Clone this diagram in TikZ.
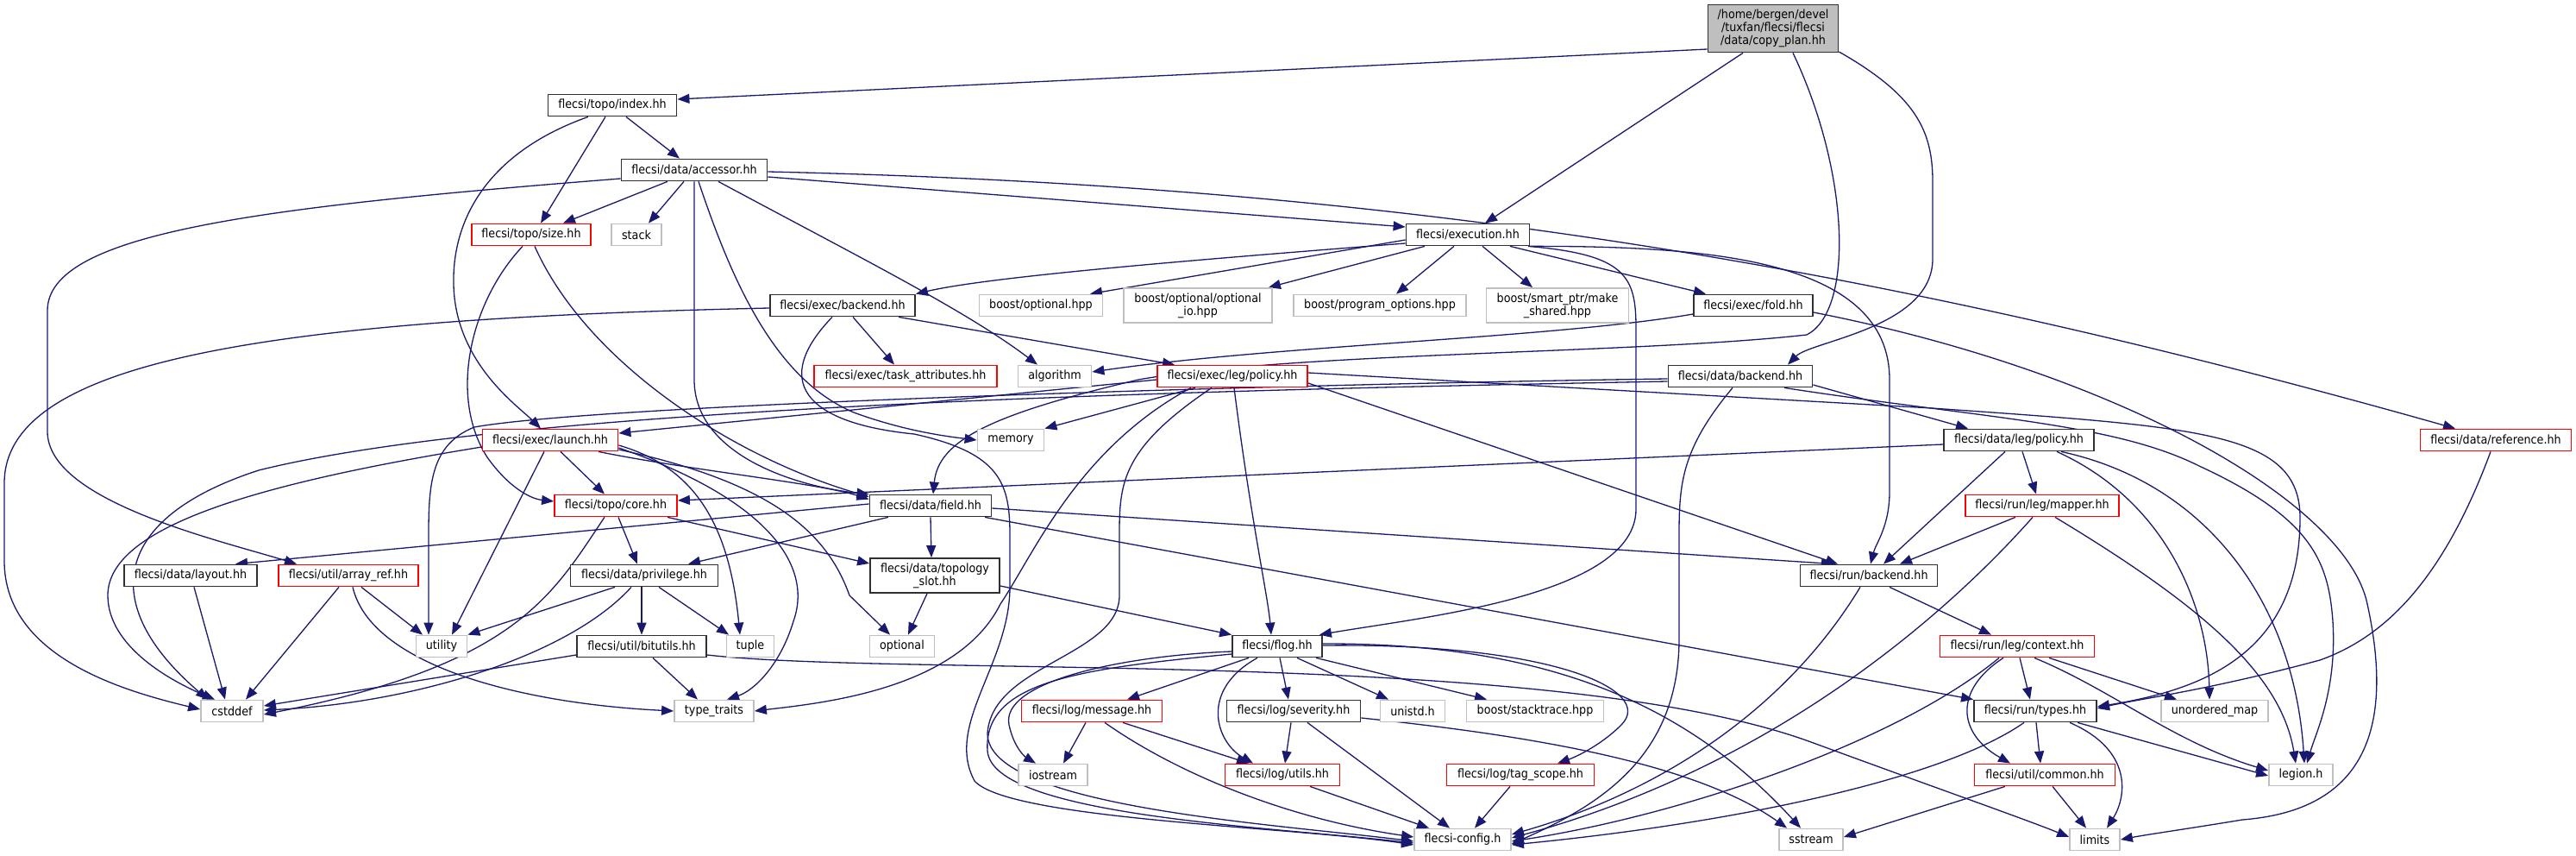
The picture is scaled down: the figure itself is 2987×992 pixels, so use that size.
\documentclass[tikz,border=0pt]{standalone}
\usepackage{fontspec}
\setmainfont{DejaVu Sans}[FakeStretch=0.91]
\usetikzlibrary{arrows.meta,backgrounds}
\definecolor{edgeblue}{HTML}{191970}
\definecolor{docgray}{HTML}{303030}
\definecolor{sysgray}{HTML}{BFBFBF}
\definecolor{rootgray}{HTML}{BFBFBF}
\definecolor{truncred}{HTML}{FF0000}
\tikzset{
  base/.style={rectangle, inner sep=0pt, minimum height=25pt, line width=1.8pt,
    font={\fontsize{14pt}{14.7pt}\selectfont}, align=center, text=black, fill=white},
  doc/.style={base, draw=docgray},
  trunc/.style={base, draw=truncred},
  sys/.style={base, draw=sysgray},
  rootnode/.style={base, draw=docgray, fill=rootgray},
  e/.style={draw=edgeblue, line width=1.3pt, -{Triangle[length=14pt,width=11pt]}},
}
\begin{document}
\begin{tikzpicture}[x=1pt,y=-1pt]
\useasboundingbox (0,0) rectangle (2987,992);
% nodes
\node[rootnode, minimum width=151pt, minimum height=55pt] (root) at (2056,33) {/home/bergen/devel\\/tuxfan/flecsi/flecsi\\/data/copy\_plan.hh};
\node[doc, minimum width=149pt] (index) at (710,122) {flecsi/topo/index.hh};
\node[doc, minimum width=169pt] (accessor) at (805,197) {flecsi/data/accessor.hh};
\node[trunc, minimum width=138pt] (size) at (616,272) {flecsi/topo/size.hh};
\node[sys, minimum width=58pt] (stack) at (738,272) {stack};
\node[doc, minimum width=143pt] (execution) at (1702,272) {flecsi/execution.hh};
\node[doc, minimum width=168pt] (execbackend) at (977,354) {flecsi/exec/backend.hh};
\node[sys, minimum width=143pt] (boostopt) at (1207,354) {boost/optional.hpp};
\node[sys, minimum width=172pt, minimum height=40pt] (optio) at (1389,354) {boost/optional/optional\\\_io.hpp};
\node[sys, minimum width=200pt] (progopt) at (1600,354) {boost/program\_options.hpp};
\node[sys, minimum width=165pt, minimum height=40pt] (makeshared) at (1806,354) {boost/smart\_ptr/make\\\_shared.hpp};
\node[doc, minimum width=138pt] (fold) at (2033,354) {flecsi/exec/fold.hh};
\node[trunc, minimum width=212pt] (taskattr) at (1050,436) {flecsi/exec/task\_attributes.hh};
\node[sys, minimum width=85pt] (algorithm) at (1223,436) {algorithm};
\node[trunc, minimum width=174pt] (execpolicy) at (1429,436) {flecsi/exec/leg/policy.hh};
\node[doc, minimum width=167pt] (databackend) at (2018,436) {flecsi/data/backend.hh};
\node[trunc, minimum width=157pt] (launch) at (638,510) {flecsi/exec/launch.hh};
\node[sys, minimum width=77pt] (memory) at (1172,510) {memory};
\node[doc, minimum width=174pt] (datapolicy) at (2341,510) {flecsi/data/leg/policy.hh};
\node[trunc, minimum width=175pt] (reference) at (2894,510) {flecsi/data/reference.hh};
\node[trunc, minimum width=142pt] (core) at (714,586) {flecsi/topo/core.hh};
\node[doc, minimum width=141pt] (field) at (1079,586) {flecsi/data/field.hh};
\node[trunc, minimum width=178pt] (mapper) at (2368,586) {flecsi/run/leg/mapper.hh};
\node[doc, minimum width=154pt] (layout) at (221,667) {flecsi/data/layout.hh};
\node[trunc, minimum width=162pt] (arrayref) at (404,667) {flecsi/util/array\_ref.hh};
\node[doc, minimum width=171pt] (privilege) at (747,667) {flecsi/data/privilege.hh};
\node[doc, minimum width=150pt, minimum height=40pt] (topslot) at (1084,667) {flecsi/data/topology\\\_slot.hh};
\node[doc, minimum width=159pt] (runbackend) at (2167,667) {flecsi/run/backend.hh};
\node[sys, minimum width=59pt] (utility) at (512,749) {utility};
\node[doc, minimum width=150pt] (bitutils) at (744,749) {flecsi/util/bitutils.hh};
\node[sys, minimum width=55pt] (tuple) at (870,749) {tuple};
\node[sys, minimum width=75pt] (optional) at (1046,749) {optional};
\node[doc, minimum width=104pt] (flog) at (1481,749) {flecsi/flog.hh};
\node[trunc, minimum width=179pt] (context) at (2339,749) {flecsi/run/leg/context.hh};
\node[sys, minimum width=72pt] (cstddef) at (269,824) {cstddef};
\node[sys, minimum width=92pt] (typetraits) at (828,824) {type\_traits};
\node[trunc, minimum width=163pt] (message) at (1266,824) {flecsi/log/message.hh};
\node[doc, minimum width=155pt] (severity) at (1500,824) {flecsi/log/severity.hh};
\node[sys, minimum width=75pt] (unistd) at (1638,824) {unistd.h};
\node[sys, minimum width=159pt] (stacktrace) at (1780,824) {boost/stacktrace.hpp};
\node[doc, minimum width=142pt] (types) at (2360,824) {flecsi/run/types.hh};
\node[sys, minimum width=124pt] (unordered) at (2568,824) {unordered\_map};
\node[sys, minimum width=80pt] (iostream) at (1221,898) {iostream};
\node[trunc, minimum width=133pt] (logutils) at (1487,898) {flecsi/log/utils.hh};
\node[trunc, minimum width=171pt] (tagscope) at (1763,898) {flecsi/log/tag\_scope.hh};
\node[trunc, minimum width=163pt] (common) at (2371,898) {flecsi/util/common.hh};
\node[sys, minimum width=74pt] (legion) at (2668,898) {legion.h};
\node[sys, minimum width=112pt] (config) at (1696,973) {flecsi-config.h};
\node[sys, minimum width=74pt] (sstream) at (2100,973) {sstream};
\node[sys, minimum width=58pt] (limits) at (2429,973) {limits};

\begin{pgfonlayer}{background}
\path[fill=white] (0,0) rectangle (2987,992);
% root
\draw[e] ([yshift=-24pt]root.west) -- ([yshift=7pt]index.east);
\draw[e] ([xshift=-35pt]root.south) -- ([xshift=20pt]execution.north);
\draw[e] ([xshift=23pt]root.south) .. controls (2145,200) and (2150,360) .. (2095,388) .. controls (1900,410) and (1500,408) .. (1320,440) .. controls (1150,480) and (1088,510) .. ([xshift=3pt]field.north);
\draw[e] ([yshift=-27pt]root.east) .. controls (2220,110) and (2241,150) .. (2241,210) -- (2241,300) .. controls (2241,380) and (2100,395) .. ([xshift=55pt]databackend.north);
% index
\draw[e] ([xshift=-8pt]index.south) -- ([xshift=11pt]size.north);
\draw[e] ([xshift=16pt]index.south) -- ([xshift=-17pt]accessor.north);
\draw[e] ([xshift=-28pt]index.south) .. controls (570,175) and (524,250) .. (526,330) .. controls (528,420) and (600,470) .. ([xshift=-11pt]launch.north);
% accessor
\draw[e] ([xshift=-31pt]accessor.south) -- ([xshift=37pt]size.north);
\draw[e] ([xshift=-12pt]accessor.south) -- ([xshift=14pt]stack.north);
\draw[e] (accessor.south) -- (805,440) .. controls (805,530) and (930,565) .. (field.north west);
\draw[e] ([xshift=5pt]accessor.south) .. controls (850,330) and (900,440) .. (990,478) .. controls (1050,500) and (1100,506) .. (memory.west);
\draw[e] ([xshift=28pt]accessor.south) .. controls (1000,300) and (1120,360) .. ([xshift=-20pt]algorithm.north);
\draw[e] ([yshift=-8pt]accessor.east) -- ([yshift=9pt]execution.west);
\draw[e] ([yshift=-2pt]accessor.east) .. controls (1600,215) and (2150,300) .. ([xshift=-47pt]reference.north);
\draw[e] ([yshift=-10pt]accessor.west) .. controls (300,240) and (55,270) .. (55,360) -- (55,500) .. controls (55,580) and (250,625) .. ([xshift=-60pt]arrayref.north);
% size
\draw[e] ([xshift=-10pt]size.south) .. controls (545,350) and (520,460) .. (565,530) .. controls (590,565) and (615,578) .. ([yshift=5pt]core.west);
\draw[e] ([xshift=4pt]size.south) .. controls (680,420) and (850,530) .. ([yshift=-3pt]field.north west);
% execution
\draw[e] ([yshift=-10pt]execution.west) .. controls (1400,300) and (1150,320) .. (execbackend.north east);
\draw[e] ([yshift=-6pt]execution.west) -- ([xshift=57pt]boostopt.north);
\draw[e] ([xshift=-50pt]execution.south) -- ([xshift=-5pt]optio.north east);
\draw[e] ([xshift=-16pt]execution.south) -- ([xshift=19pt]progopt.north);
\draw[e] ([xshift=17pt]execution.south) -- ([xshift=-29pt]makeshared.north);
\draw[e] ([xshift=49pt]execution.south) -- ([xshift=-55pt]fold.north);
\draw[e] ([xshift=70pt]execution.south) .. controls (1885,295) and (1897,320) .. (1897,380) -- (1897,590) .. controls (1897,690) and (1650,715) .. ([xshift=-4pt]flog.north east);
\draw[e] (execution.south east) .. controls (1980,285) and (2191,300) .. (2191,440) -- (2191,570) .. controls (2191,610) and (2175,630) .. ([xshift=2pt]runbackend.north);
% exec backend
\draw[e] ([xshift=12pt]execbackend.south) -- ([xshift=-13pt]taskattr.north);
\draw[e] ([xshift=65pt]execbackend.south) -- ([xshift=-67pt]execpolicy.north);
\draw[e] ([yshift=-3pt]execbackend.west) .. controls (300,370) and (5,420) .. (5,560) -- (5,650) .. controls (5,760) and (140,800) .. ([yshift=2pt]cstddef.west);
\draw[e] ([xshift=-12pt]execbackend.south) .. controls (895,440) and (930,490) .. (1060,503) .. controls (1160,525) and (1171,560) .. (1171,620) -- (1171,680) .. controls (1171,770) and (1095,840) .. (1130,905) .. controls (1170,950) and (1500,958) .. ([yshift=-6pt]config.west);
% fold
\draw[e] ([yshift=-10pt]fold.west) .. controls (1800,392) and (1480,400) .. ([yshift=5pt]algorithm.east);
\draw[e] ([yshift=-8pt]fold.east) .. controls (2450,430) and (2720,580) .. (2745,700) .. controls (2780,860) and (2730,940) .. (2600,950) .. controls (2540,960) and (2490,967) .. (limits.east);
% exec policy
\draw[e] ([yshift=-4pt]execpolicy.west) -- ([yshift=8pt]launch.east);
\draw[e] ([xshift=-43pt]execpolicy.south) -- (memory.north east);
\draw[e] ([xshift=2pt]execpolicy.south) .. controls (1450,600) and (1470,690) .. ([xshift=-7pt]flog.north);
\draw[e] ([xshift=-48pt]execpolicy.south) .. controls (1250,520) and (1200,640) .. (1160,700) .. controls (1110,800) and (950,815) .. (typetraits.east);
\draw[e] ([xshift=-24pt]execpolicy.south) .. controls (1300,520) and (1298,560) .. (1298,620) -- (1298,690) .. controls (1298,760) and (1150,770) .. (1145,850) .. controls (1145,935) and (1480,955) .. ([yshift=-2pt]config.west);
\draw[e] ([yshift=-8pt]execpolicy.east) -- ([xshift=-36pt]runbackend.north);
\draw[e] ([yshift=4pt]execpolicy.east) -- (2240,473) .. controls (2550,495) and (2667,500) .. (2667,600) .. controls (2667,760) and (2550,800) .. ([yshift=5pt]types.east);
% data backend
\draw[e] ([yshift=-10pt]databackend.east) -- ([xshift=-59pt]datapolicy.north);
\draw[e] ([xshift=51pt]databackend.south) .. controls (2300,485) and (2450,490) .. (2550,540) .. controls (2680,600) and (2700,650) .. (2705,720) .. controls (2710,800) and (2685,850) .. ([xshift=7pt]legion.north);
\draw[e] ([xshift=-9pt]databackend.south) .. controls (1950,520) and (1947,560) .. (1947,620) -- (1947,740) .. controls (1947,880) and (1850,935) .. ([yshift=-5pt]config.east);
\draw[e] ([yshift=-3pt]databackend.west) .. controls (1500,445) and (700,468) .. (550,495) .. controls (500,515) and (497,560) .. (497,620) -- ([xshift=-15pt]utility.north);
\draw[e] ([yshift=-6pt]databackend.west) .. controls (1400,452) and (600,470) .. (300,545) .. controls (130,600) and (112,700) .. ([xshift=-28pt]cstddef.north);
% launch
\draw[e] ([yshift=-8pt]launch.west) .. controls (300,560) and (125,610) .. (125,690) .. controls (125,750) and (200,790) .. ([xshift=-20pt]cstddef.north);
\draw[e] ([xshift=-7pt]launch.south) -- ([xshift=12pt]utility.north);
\draw[e] ([xshift=12pt]launch.south) -- ([xshift=-13pt]core.north);
\draw[e] ([xshift=56pt]launch.south) .. controls (800,545) and (950,560) .. ([yshift=-6pt]field.north west);
\draw[e] ([yshift=-6pt]launch.east) .. controls (800,540) and (845,600) .. ([xshift=-12pt]tuple.north);
\draw[e] ([yshift=-9pt]launch.east) .. controls (880,575) and (945,650) .. (920,720) .. controls (905,770) and (875,800) .. ([xshift=15pt]typetraits.north);
\draw[e] ([yshift=-11pt]launch.east) .. controls (900,560) and (960,620) .. (985,690) -- ([xshift=-14pt]optional.north);
% core
\draw[e] ([xshift=3pt]core.south) -- ([xshift=-8pt]privilege.north);
\draw[e] ([xshift=-13pt]core.south) .. controls (640,690) and (600,770) .. ([yshift=-4pt]cstddef.east);
\draw[e] ([xshift=60pt]core.south) -- ([yshift=14pt]topslot.west);
% field
\draw[e] ([xshift=-49pt]field.south) -- ([xshift=51pt]privilege.north);
\draw[e] (field.south) -- ([xshift=-4pt]topslot.north);
\draw[e] ([yshift=2pt]field.west) -- ([xshift=52pt]layout.north);
\draw[e] ([yshift=-3pt]field.east) -- ([xshift=-41pt]runbackend.north);
\draw[e] ([xshift=63pt]field.south) -- (types.north west);
% topology slot
\draw[e] ([xshift=-9pt]topslot.south) -- ([xshift=7pt]optional.north);
\draw[e] ([yshift=-12pt]topslot.east) -- (flog.north west);
% layout, array_ref
\draw[e] ([xshift=4pt]layout.south) -- ([xshift=-8pt]cstddef.north);
\draw[e] ([xshift=-11pt]arrayref.south) -- ([xshift=16pt]cstddef.north);
\draw[e] ([xshift=15pt]arrayref.south) -- ([xshift=-22pt]utility.north);
\draw[e] ([xshift=5pt]arrayref.south) .. controls (430,770) and (600,815) .. (typetraits.west);
% privilege
\draw[e] ([xshift=-34pt]privilege.south) -- (utility.north east);
\draw[e] ([xshift=-15pt]privilege.south) .. controls (660,760) and (480,815) .. ([yshift=1pt]cstddef.east);
\draw[e] ([xshift=-3pt]privilege.south) -- (bitutils.north);
\draw[e] ([xshift=17pt]privilege.south) -- ([xshift=-25pt]tuple.north);
% bitutils
\draw[e] ([yshift=-10pt]bitutils.west) -- ([yshift=6pt]cstddef.east);
\draw[e] ([xshift=13pt]bitutils.south) -- ([xshift=-19pt]typetraits.north);
\draw[e] ([yshift=-10pt]bitutils.east) .. controls (1050,785) and (1800,750) .. (2100,860) .. controls (2250,915) and (2350,950) .. ([yshift=3pt]limits.west);
% flog
\draw[e] ([xshift=-33pt]flog.south) -- ([xshift=41pt]message.north);
\draw[e] ([xshift=-23pt]flog.south) .. controls (1390,800) and (1410,860) .. ([xshift=-34pt]logutils.north);
\draw[e] ([xshift=3pt]flog.south) -- ([xshift=-6pt]severity.north);
\draw[e] ([xshift=23pt]flog.south) -- ([xshift=-28pt]unistd.north);
\draw[e] ([xshift=45pt]flog.south) -- ([xshift=-56pt]stacktrace.north);
\draw[e] ([yshift=1pt]flog.east) .. controls (1800,745) and (1920,800) .. (1880,840) .. controls (1855,865) and (1825,878) .. ([xshift=43pt]tagscope.north);
\draw[e] ([yshift=3pt]flog.east) .. controls (1800,745) and (1960,820) .. ([xshift=-12pt]sstream.north);
\draw[e] ([yshift=-6pt]flog.west) .. controls (1300,760) and (1160,790) .. (1170,840) .. controls (1176,868) and (1190,878) .. ([xshift=-20pt]iostream.north);
\draw[e] ([yshift=-9pt]flog.west) .. controls (1250,775) and (1140,790) .. (1145,870) .. controls (1150,945) and (1470,958) .. ([yshift=-4pt]config.west);
% message
\draw[e] ([xshift=-7pt]message.south) -- ([xshift=12pt]iostream.north);
\draw[e] ([xshift=36pt]message.south) -- ([xshift=-39pt]logutils.north);
\draw[e] ([xshift=15pt]message.south) .. controls (1370,900) and (1500,950) .. ([yshift=3pt]config.west);
% severity
\draw[e] ([xshift=-3pt]severity.south) -- ([xshift=3pt]logutils.north);
\draw[e] ([xshift=16pt]severity.south) -- ([xshift=-15pt]config.north);
\draw[e] ([yshift=-8pt]severity.east) .. controls (1750,850) and (1960,880) .. ([xshift=-28pt]sstream.north);
% utils, tag_scope
\draw[e] ([xshift=32pt]logutils.south) -- ([xshift=-39pt]config.north);
\draw[e] ([xshift=-12pt]tagscope.south) -- ([xshift=14pt]config.north);
% run backend
\draw[e] ([xshift=24pt]runbackend.south) -- ([xshift=-30pt]context.north);
\draw[e] ([xshift=-10pt]runbackend.south) .. controls (2060,840) and (1900,925) .. ([yshift=6pt]config.east);
% data leg policy
\draw[e] ([xshift=4pt]datapolicy.south) -- ([xshift=-7pt]mapper.north);
\draw[e] ([xshift=-16pt]datapolicy.south) -- ([xshift=17pt]runbackend.north);
\draw[e] ([yshift=-5pt]datapolicy.west) -- ([yshift=6pt]core.east);
\draw[e] ([xshift=44pt]datapolicy.south) .. controls (2510,580) and (2560,700) .. ([xshift=-6pt]unordered.north);
\draw[e] ([xshift=49pt]datapolicy.south) .. controls (2560,560) and (2660,700) .. ([xshift=4pt]legion.north);
% mapper
\draw[e] ([xshift=-31pt]mapper.south) -- ([xshift=36pt]runbackend.north);
\draw[e] ([xshift=-11pt]mapper.south) .. controls (2250,720) and (2050,890) .. ([yshift=2pt]config.east);
\draw[e] ([xshift=15pt]mapper.south) .. controls (2550,700) and (2645,780) .. ([xshift=-6pt]legion.north);
% reference
\draw[e] ([xshift=-6pt]reference.south) .. controls (2830,680) and (2760,740) .. (2690,765) .. controls (2560,800) and (2480,810) .. ([yshift=3pt]types.east);
% context
\draw[e] ([xshift=3pt]context.south) -- ([xshift=-6pt]types.north);
\draw[e] ([xshift=37pt]context.south) -- ([xshift=-44pt]unordered.north);
\draw[e] ([xshift=20pt]context.south) .. controls (2450,800) and (2520,860) .. ([yshift=5pt]legion.west);
\draw[e] ([xshift=-16pt]context.south) .. controls (2265,800) and (2270,850) .. ([xshift=-40pt]common.north);
\draw[e] ([xshift=-21pt]context.south) .. controls (2200,860) and (1950,945) .. ([yshift=-2pt]config.east);
% types
\draw[e] ([xshift=-13pt]types.south) .. controls (2250,905) and (2000,955) .. ([yshift=-6pt]config.east);
\draw[e] ([xshift=1pt]types.south) -- ([xshift=-5pt]common.north);
\draw[e] ([xshift=40pt]types.south) .. controls (2475,870) and (2465,925) .. ([xshift=14pt]limits.north);
\draw[e] ([xshift=49pt]types.south) -- ([yshift=-1pt]legion.west);
% common
\draw[e] ([xshift=9pt]common.south) -- ([xshift=-10pt]limits.north);
\draw[e] ([xshift=-46pt]common.south) -- ([yshift=3pt]sstream.east);
\end{pgfonlayer}
\end{tikzpicture}
\end{document}
